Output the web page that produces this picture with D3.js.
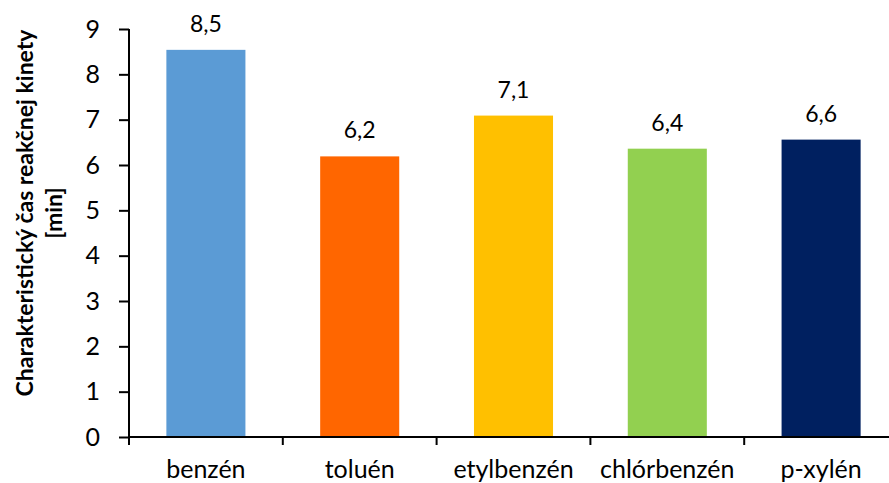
<!DOCTYPE html>
<html>
<head>
<meta charset="utf-8">
<script src="https://cdn.jsdelivr.net/npm/d3@7"></script>
<style>
  html, body { margin: 0; padding: 0; background: #fff; }
  svg { display: block; }
  text { font-family: Lato, "Open Sans", sans-serif; fill: #000; }
</style>
</head>
<body>
<svg id="chart" width="889" height="483"></svg>
<script>
// Characteristic reaction kinetics time per solvent
const categories = ["benzén", "toluén", "etylbenzén", "chlórbenzén", "p-xylén"];
const values = [8.54, 6.19, 7.09, 6.36, 6.56];
const colors = ["#5B9BD5", "#FF6600", "#FFC000", "#92D050", "#002060"];
const yTicks = [0, 1, 2, 3, 4, 5, 6, 7, 8, 9];
const yTitleLines = ["Charakteristický čas reakčnej kinety", "[min]"];

const svg = d3.select("#chart");

const plot = { left: 129, right: 898, top: 29, bottom: 437 };

const x = d3.scaleBand()
  .domain(categories)
  .range([plot.left, plot.right])
  .paddingInner(0.486)
  .paddingOuter(0.243);

const y = d3.scaleLinear()
  .domain([0, 9])
  .range([plot.bottom, plot.top]);

const fmt = v => d3.format(".1f")(v).replace(".", ",");

// Bars
svg.append("g").selectAll("rect")
  .data(values)
  .join("rect")
  .attr("x", (d, i) => x(categories[i]))
  .attr("y", d => y(d))
  .attr("width", x.bandwidth())
  .attr("height", d => y(0) - y(d))
  .attr("fill", (d, i) => colors[i]);

// Value labels
svg.append("g").selectAll("text")
  .data(values)
  .join("text")
  .attr("x", (d, i) => x(categories[i]) + x.bandwidth() / 2)
  .attr("y", d => y(d) - 18)
  .attr("text-anchor", "middle")
  .style("font-size", "23px")
  .text(d => fmt(d));

// Y axis
const yAxis = d3.axisLeft(y)
  .tickValues(yTicks)
  .tickSize(10)
  .tickPadding(19)
  .tickFormat(d3.format("d"));

const gy = svg.append("g")
  .attr("transform", `translate(${plot.left},0)`)
  .call(yAxis);
gy.select(".domain").attr("stroke", "#000").attr("stroke-width", 2)
  .attr("d", `M0,${plot.top}V${plot.bottom}`);
gy.selectAll(".tick line").attr("stroke", "#000").attr("stroke-width", 2);
gy.selectAll(".tick text")
  .style("font-size", "25px")
  .style("font-family", "Lato, sans-serif")
  .attr("fill", "#000");

// X axis: baseline with category boundary ticks
const boundaries = categories.map(c => x(c) - x.step() * x.paddingInner() / 2)
  .concat([plot.right]);

const gx = svg.append("g");
gx.append("line")
  .attr("x1", plot.left).attr("x2", plot.right)
  .attr("y1", y(0)).attr("y2", y(0))
  .attr("stroke", "#000").attr("stroke-width", 2);
gx.selectAll("line.b")
  .data(boundaries)
  .join("line")
  .attr("class", "b")
  .attr("x1", d => d).attr("x2", d => d)
  .attr("y1", y(0)).attr("y2", y(0) + 8)
  .attr("stroke", "#000").attr("stroke-width", 2);

gx.selectAll("text")
  .data(categories)
  .join("text")
  .attr("x", d => x(d) + x.bandwidth() / 2)
  .attr("y", 478)
  .attr("text-anchor", "middle")
  .style("font-size", "25px")
  .text(d => d);

// Y axis title (two lines, rotated)
const title = svg.append("text")
  .attr("transform", "translate(33,213) rotate(-90)")
  .attr("text-anchor", "middle")
  .style("font-size", "23px")
  .style("font-weight", "bold");
title.selectAll("tspan")
  .data(yTitleLines)
  .join("tspan")
  .attr("x", 0)
  .attr("dy", (d, i) => i === 0 ? 0 : 29)
  .text(d => d);
</script>
</body>
</html>
